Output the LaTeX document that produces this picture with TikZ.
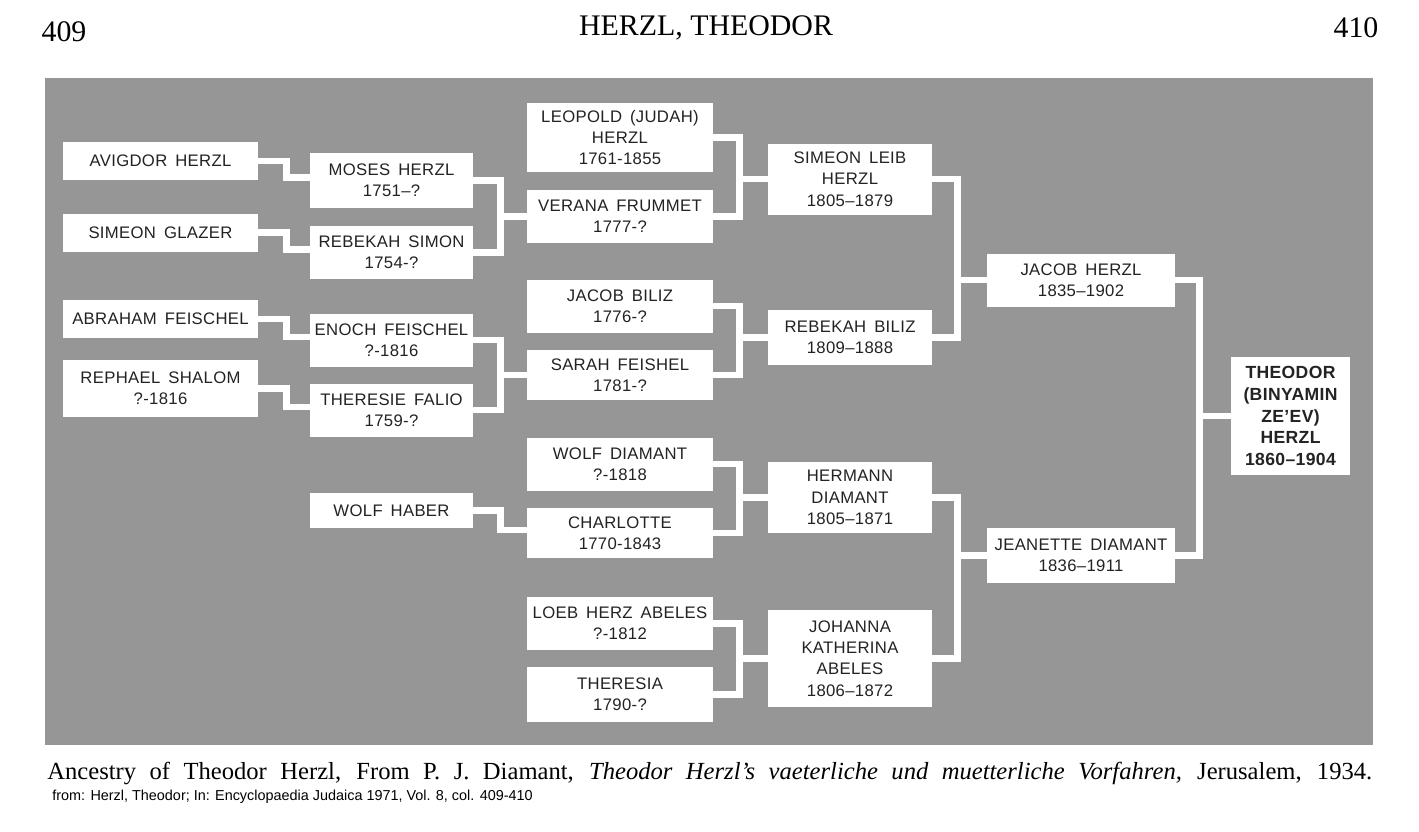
\documentclass[tikz,border=0pt]{standalone}
\usepackage{fontspec}
\setmainfont{Liberation Serif}
\newfontfamily\boxfont[WordSpace=1.6, LetterSpace=2]{Liberation Sans}
\newfontfamily\notefont{Liberation Sans}
\definecolor{panel}{RGB}{150,150,150}
\definecolor{ink}{RGB}{35,35,35}

\begin{document}
\begin{tikzpicture}[
  person/.style={fill=white, text=ink, align=center, inner sep=0pt, minimum height=1.06cm, font=\boxfont\fontsize{9.5}{12.2}\selectfont},
  col1/.style={person, minimum width=3.9cm},
  col2/.style={person, minimum width=3.26cm},
  col3/.style={person, minimum width=3.72cm},
  col4/.style={person, minimum width=3.28cm},
  col5/.style={person, minimum width=3.76cm},
  short/.style={minimum height=0.76cm},
  tall/.style={minimum height=1.42cm},
  link/.style={draw=white, line width=3.7pt},
  heading/.style={font=\fontsize{17}{20}\selectfont, inner sep=0pt}
]
\useasboundingbox (0,0) rectangle (28.38,-16.62);
\fill[white] (0,0) rectangle (28.38,-16.62);
\fill[panel] (0.90,-1.56) rectangle (27.46,-14.90);

% Page head
\node[heading] (pleft) at (1.28,-0.64) {409};
\node[heading] (title) at (14.12,-0.56) {HERZL, THEODOR};
\node[heading] (pright) at (27.12,-0.56) {410};

% Great-great-grandparents
\node[col1, short] (avigdor) at (3.21,-3.22) {AVIGDOR HERZL};
\node[col1, short] (simeong) at (3.21,-4.65) {SIMEON GLAZER};
\node[col1, short] (abraham) at (3.21,-6.38) {ABRAHAM FEISCHEL};
\node[col1, minimum height=1.14cm] (rephael) at (3.21,-7.77) {REPHAEL SHALOM\\?-1816};

% Great-grandparents
\node[col2, minimum height=1.10cm] (moses) at (7.83,-3.61) {MOSES HERZL\\1751–?};
\node[col2] (rebekahs) at (7.83,-5.05) {REBEKAH SIMON\\1754-?};
\node[col2] (enoch) at (7.83,-6.80) {ENOCH FEISCHEL\\?-1816};
\node[col2] (theresie) at (7.83,-8.20) {THERESIE FALIO\\1759-?};
\node[col2, minimum height=0.70cm] (wolfh) at (7.83,-10.21) {WOLF HABER};

% Second column of great-grandparents
\node[col3, minimum height=1.38cm] (leopold) at (12.40,-2.75) {LEOPOLD (JUDAH)\\HERZL\\1761-1855};
\node[col3] (verana) at (12.40,-4.33) {VERANA FRUMMET\\1777-?};
\node[col3] (jacobb) at (12.40,-6.12) {JACOB BILIZ\\1776-?};
\node[col3, minimum height=1.0cm] (sarah) at (12.40,-7.50) {SARAH FEISHEL\\1781-?};
\node[col3] (wolfd) at (12.40,-9.28) {WOLF DIAMANT\\?-1818};
\node[col3, minimum height=1.0cm] (charlotte) at (12.40,-10.66) {CHARLOTTE\\1770-1843};
\node[col3] (loeb) at (12.40,-12.47) {LOEB HERZ ABELES\\?-1812};
\node[col3, minimum height=1.10cm] (theresia) at (12.40,-13.89) {THERESIA\\1790-?};

% Grandparents
\node[col4, tall] (simeonl) at (17.00,-3.58) {SIMEON LEIB\\HERZL\\1805–1879};
\node[col4, minimum height=1.10cm] (rebekahb) at (17.00,-6.75) {REBEKAH BILIZ\\1809–1888};
\node[col4, tall] (hermann) at (17.00,-9.95) {HERMANN\\DIAMANT\\1805–1871};
\node[col4, minimum height=1.94cm] (johanna) at (17.00,-13.17) {JOHANNA\\KATHERINA\\ABELES\\1806–1872};

% Parents and Theodor
\node[col5] (jacobh) at (21.62,-5.60) {JACOB HERZL\\1835–1902};
\node[col5, minimum height=1.10cm] (jeanette) at (21.62,-11.11) {JEANETTE DIAMANT\\1836–1911};
\node[person, minimum width=2.38cm, minimum height=2.36cm, font=\boxfont\bfseries\fontsize{10}{12.3}\selectfont] (theodor) at (25.81,-8.32) {THEODOR\\(BINYAMIN\\ZE’EV)\\HERZL\\1860–1904};

% One parent shown
\foreach \p/\c/\d in {avigdor/moses/0.46, simeong/rebekahs/0.46, abraham/enoch/0.46, rephael/theresie/0.46, wolfh/charlotte/0.52}
  \draw[link] (\p.east) -| ([xshift=-\d cm, yshift=0.06cm]\c.west) -- ([yshift=0.06cm]\c.west);

% Father and mother joined to the child
\foreach \f/\m/\c/\d in {moses/rebekahs/verana/0.52, enoch/theresie/sarah/0.52,
    leopold/verana/simeonl/0.56, jacobb/sarah/rebekahb/0.56, wolfd/charlotte/hermann/0.56, loeb/theresia/johanna/0.56,
    simeonl/rebekahb/jacobh/0.58, hermann/johanna/jeanette/0.58, jacobh/jeanette/theodor/0.62}
  \draw[link] (\f.east) -| ([xshift=-\d cm]\c.west) |- (\m.east)
              ([xshift=-\d cm]\c.west) -- (\c.west);

% Caption
\node[anchor=west, inner sep=0pt, font=\fontsize{14}{16}\selectfont] (caption) at (0.94,-15.46)
  {\makebox[26.5cm][s]{Ancestry of Theodor Herzl, From P. J. Diamant, \textit{Theodor Herzl’s vaeterliche und muetterliche Vorfahren,} Jerusalem, 1934.}};
\node[anchor=west, inner sep=0pt, font=\notefont\fontsize{8.2}{9.5}\selectfont] (source) at (1.04,-15.94)
  {from: Herzl, Theodor; In: Encyclopaedia Judaica 1971, Vol. 8, col. 409-410};
\end{tikzpicture}
\end{document}
